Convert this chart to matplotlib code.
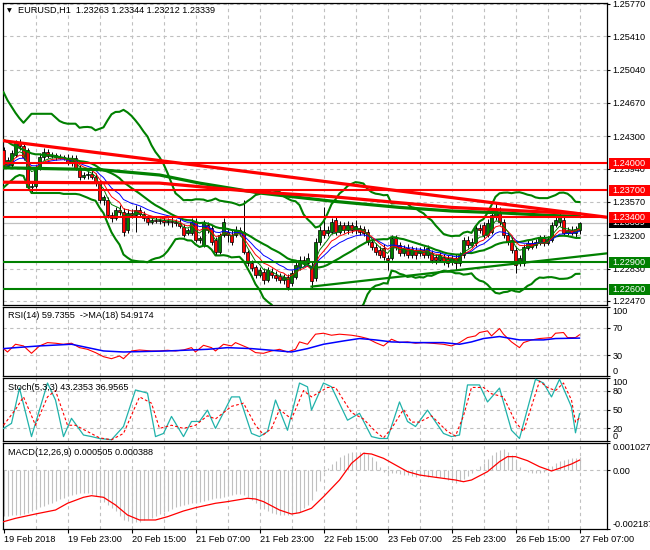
import numpy as np
import pandas as pd
import matplotlib
matplotlib.use("Agg")
import matplotlib.pyplot as plt
import matplotlib.transforms as mtrans
from matplotlib.patches import Rectangle

plt.rcParams['font.family'] = ['Liberation Sans', 'DejaVu Sans']
plt.rcParams['axes.unicode_minus'] = False
FS = 6.6

# EURUSD H1 candles, bar 0 = 19 Feb 07:00 ... bar 144 = 27 Feb 07:00
opens = [
    1.2415, 1.2397, 1.2398, 1.2409, 1.2423, 1.2419, 1.2415, 1.2374, 1.2375, 1.2396,
    1.2407, 1.2413, 1.2408, 1.2409, 1.2407, 1.2407, 1.2406, 1.2400, 1.2406, 1.2395,
    1.2385, 1.2387, 1.2388, 1.2385, 1.2378, 1.2359, 1.2359, 1.2342, 1.2339, 1.2348,
    1.2346, 1.2326, 1.2345, 1.2342, 1.2348, 1.2344, 1.2339, 1.2335, 1.2337, 1.2336,
    1.2337, 1.2335, 1.2336, 1.2335, 1.2334, 1.2329, 1.2323, 1.2323, 1.2335, 1.2315,
    1.2309, 1.2331, 1.2328, 1.2315, 1.2301, 1.2320, 1.2324, 1.2320, 1.2320, 1.2326,
    1.2324, 1.2301, 1.2289, 1.2285, 1.2276, 1.2279, 1.2270, 1.2279, 1.2276, 1.2275,
    1.2270, 1.2274, 1.2267, 1.2274, 1.2285, 1.2293, 1.2289, 1.2286, 1.2272, 1.2313,
    1.2326, 1.2323, 1.2324, 1.2337, 1.2324, 1.2331, 1.2326, 1.2331, 1.2326, 1.2328,
    1.2327, 1.2324, 1.2313, 1.2307, 1.2304, 1.2306, 1.2295, 1.2295, 1.2317, 1.2309,
    1.2300, 1.2306, 1.2298, 1.2304, 1.2300, 1.2304, 1.2298, 1.2300, 1.2296, 1.2293,
    1.2296, 1.2295, 1.2290, 1.2295, 1.2289, 1.2298, 1.2315, 1.2309, 1.2311, 1.2328,
    1.2331, 1.2320, 1.2324, 1.2340, 1.2346, 1.2335, 1.2320, 1.2315, 1.2304, 1.2289,
    1.2289, 1.2306, 1.2311, 1.2309, 1.2311, 1.2317, 1.2311, 1.2315, 1.2331, 1.2335,
    1.2337, 1.2323, 1.2326, 1.2323, 1.23263]
highs = [
    1.2418, 1.2407, 1.2415, 1.2426, 1.2427, 1.2424, 1.2417, 1.2378, 1.2398, 1.2411,
    1.2417, 1.2416, 1.2413, 1.2411, 1.2410, 1.2409, 1.2410, 1.2409, 1.2409, 1.2398,
    1.2390, 1.2391, 1.2393, 1.2389, 1.2381, 1.2365, 1.2363, 1.2346, 1.2351, 1.2354,
    1.2350, 1.2349, 1.2349, 1.2354, 1.2351, 1.2347, 1.2342, 1.2339, 1.2340, 1.2339,
    1.2340, 1.2339, 1.2341, 1.2338, 1.2339, 1.2333, 1.2328, 1.2339, 1.2339, 1.2319,
    1.2337, 1.2335, 1.2331, 1.2318, 1.2323, 1.2339, 1.2328, 1.2326, 1.2330, 1.2329,
    1.2359, 1.2304, 1.2293, 1.2287, 1.2285, 1.2284, 1.2285, 1.2284, 1.2280, 1.2278,
    1.2277, 1.2277, 1.2281, 1.2290, 1.2297, 1.2297, 1.2300, 1.2290, 1.2317, 1.2330,
    1.2351, 1.2330, 1.2339, 1.2340, 1.2336, 1.2335, 1.2336, 1.2335, 1.2337, 1.2331,
    1.2330, 1.2327, 1.2316, 1.2311, 1.2308, 1.2310, 1.2298, 1.2320, 1.2320, 1.2313,
    1.2309, 1.2310, 1.2308, 1.2307, 1.2307, 1.2308, 1.2309, 1.2304, 1.2299, 1.2301,
    1.2299, 1.2298, 1.2298, 1.2299, 1.2301, 1.2318, 1.2319, 1.2317, 1.2331, 1.2333,
    1.2335, 1.2338, 1.2348, 1.2357, 1.2351, 1.2338, 1.2324, 1.2318, 1.2308, 1.2298,
    1.2310, 1.2315, 1.2315, 1.2316, 1.2320, 1.2320, 1.2319, 1.2335, 1.2342, 1.2348,
    1.2340, 1.2329, 1.2330, 1.2330, 1.23344]
lows = [
    1.2395, 1.2395, 1.2396, 1.2407, 1.2415, 1.2404, 1.2370, 1.2368, 1.2373, 1.2393,
    1.2404, 1.2406, 1.2406, 1.2404, 1.2405, 1.2404, 1.2398, 1.2397, 1.2393, 1.2381,
    1.2382, 1.2383, 1.2382, 1.2375, 1.2356, 1.2354, 1.2339, 1.2335, 1.2337, 1.2342,
    1.2319, 1.2323, 1.2339, 1.2324, 1.2340, 1.2336, 1.2331, 1.2333, 1.2334, 1.2333,
    1.2330, 1.2331, 1.2329, 1.2330, 1.2328, 1.2318, 1.2320, 1.2320, 1.2313, 1.2311,
    1.2307, 1.2323, 1.2309, 1.2298, 1.2299, 1.2318, 1.2313, 1.2309, 1.2318, 1.2319,
    1.2299, 1.2286, 1.2280, 1.2272, 1.2274, 1.2266, 1.2268, 1.2272, 1.2269, 1.2267,
    1.2266, 1.2259, 1.2264, 1.2271, 1.2281, 1.2286, 1.2287, 1.2261, 1.2269, 1.2309,
    1.2317, 1.2319, 1.2321, 1.2320, 1.2321, 1.2323, 1.2321, 1.2323, 1.2321, 1.2320,
    1.2319, 1.2309, 1.2304, 1.2298, 1.2295, 1.2293, 1.2281, 1.2293, 1.2304, 1.2297,
    1.2297, 1.2295, 1.2295, 1.2294, 1.2297, 1.2295, 1.2295, 1.2289, 1.2288, 1.2290,
    1.2287, 1.2285, 1.2287, 1.2281, 1.2286, 1.2295, 1.2306, 1.2307, 1.2308, 1.2323,
    1.2317, 1.2318, 1.2321, 1.2337, 1.2331, 1.2317, 1.2309, 1.2300, 1.2278, 1.2286,
    1.2286, 1.2304, 1.2305, 1.2306, 1.2309, 1.2308, 1.2309, 1.2313, 1.2329, 1.2330,
    1.2320, 1.2320, 1.2320, 1.2317, 1.23212]
closes = [
    1.2397, 1.2404, 1.2411, 1.2423, 1.2419, 1.2407, 1.2374, 1.2375, 1.2396, 1.2407,
    1.2413, 1.2408, 1.2409, 1.2407, 1.2406, 1.2406, 1.2400, 1.2406, 1.2395, 1.2385,
    1.2387, 1.2388, 1.2385, 1.2378, 1.2359, 1.2362, 1.2342, 1.2339, 1.2348, 1.2346,
    1.2324, 1.2345, 1.2342, 1.2348, 1.2344, 1.2339, 1.2335, 1.2337, 1.2336, 1.2337,
    1.2335, 1.2336, 1.2335, 1.2334, 1.2330, 1.2320, 1.2326, 1.2335, 1.2315, 1.2317,
    1.2334, 1.2326, 1.2313, 1.2301, 1.2320, 1.2335, 1.2320, 1.2313, 1.2326, 1.2323,
    1.2301, 1.2289, 1.2284, 1.2276, 1.2281, 1.2270, 1.2281, 1.2276, 1.2272, 1.2270,
    1.2274, 1.2263, 1.2278, 1.2287, 1.2293, 1.2289, 1.2295, 1.2269, 1.2313, 1.2326,
    1.2320, 1.2326, 1.2335, 1.2324, 1.2331, 1.2326, 1.2331, 1.2326, 1.2330, 1.2324,
    1.2323, 1.2313, 1.2307, 1.2301, 1.2298, 1.2296, 1.2293, 1.2317, 1.2307, 1.2300,
    1.2306, 1.2298, 1.2305, 1.2298, 1.2304, 1.2298, 1.2306, 1.2293, 1.2293, 1.2298,
    1.2290, 1.2289, 1.2295, 1.2289, 1.2298, 1.2315, 1.2309, 1.2313, 1.2328, 1.2326,
    1.2320, 1.2334, 1.2342, 1.2348, 1.2335, 1.2320, 1.2313, 1.2304, 1.2287, 1.2295,
    1.2307, 1.2311, 1.2307, 1.2313, 1.2317, 1.2311, 1.2316, 1.2331, 1.2337, 1.2340,
    1.2323, 1.2326, 1.2323, 1.2327, 1.23339]

# Bollinger band values on the first bars (history before the window)
early_upper = [1.2479, 1.2470, 1.2463, 1.2456, 1.2450, 1.2445, 1.2450, 1.2455, 1.2455, 1.2455,
               1.2455, 1.2455, 1.2455, 1.2451, 1.2447, 1.2445, 1.2444, 1.2444, 1.2444]
early_mid = [1.2426, 1.2424, 1.2421, 1.2419, 1.2417, 1.2415, 1.2413, 1.2411, 1.2410, 1.2410,
             1.2409, 1.2409, 1.2409, 1.2408, 1.2407, 1.2406, 1.2405, 1.2405, 1.2404]
early_lower = [1.2373, 1.2377, 1.2381, 1.2385, 1.2387, 1.2386, 1.2375, 1.2367, 1.2367, 1.2367,
               1.2367, 1.2367, 1.2367, 1.2367, 1.2367, 1.2366, 1.2366, 1.2366, 1.2366]

# slow moving averages (thick)
slow_green_bars = [0, 24, 39, 49, 64, 82, 99, 112, 124, 137, 144]
slow_green = [1.2395, 1.2393, 1.2387, 1.2378, 1.2367, 1.2358, 1.2351, 1.2347, 1.2345, 1.2342, 1.2341]
slow_red_bars = [0, 39, 64, 82, 112, 144]
slow_red = [1.2379, 1.2378, 1.2368, 1.2363, 1.2351, 1.2344]

# drawn objects
red_levels = [1.2400, 1.2370, 1.2340]
green_levels = [1.2290, 1.2260]
red_trend_bars = [0, 151]
red_trend = [1.2425, 1.2340]
green_trend_bars = [77, 151]
green_trend = [1.2263, 1.2300]
last_price = 1.23339

# RSI(14) and its MA(18)
rsi_bars = [0, 1, 3, 5, 7, 9, 11, 13, 15, 17, 19, 21, 23, 25, 27, 29, 30, 32, 34, 37,
            39, 41, 43, 45, 47, 48, 50, 52, 53, 55, 57, 58, 61, 63, 65, 67, 69, 71, 73, 74,
            76, 78, 80, 82, 84, 87, 89, 91, 93, 95, 97, 99, 101, 103, 105, 107, 110, 112, 114, 116,
            118, 119, 121, 122, 124, 125, 127, 129, 130, 132, 134, 137, 138, 140, 141, 143, 144]
rsi_vals = [39.7, 34.8, 46.0, 43.6, 32.9, 43.6, 48.4, 47.5, 46.0, 47.5, 41.1, 38.7, 33.9, 28.0, 25.1, 29.0, 25.1, 36.3, 37.7, 36.3,
            36.3, 37.3, 36.3, 37.7, 41.1, 34.8, 44.5, 41.1, 36.3, 46.0, 43.6, 48.4, 41.1, 33.9, 32.9, 36.3, 38.7, 34.8, 38.7, 49.4,
            46.0, 60.6, 62.0, 59.1, 60.6, 59.1, 57.2, 54.3, 48.4, 43.6, 53.3, 48.4, 49.4, 47.5, 48.4, 47.5, 46.0, 43.6, 48.4, 55.7,
            58.1, 63.0, 65.4, 58.1, 68.8, 60.6, 49.4, 41.1, 48.4, 52.3, 54.3, 55.7, 62.0, 63.0, 55.7, 55.7, 59.7355]
rsi_ma_bars = [0, 3, 9, 17, 19, 25, 30, 41, 51, 56, 62, 67, 72, 76, 80, 85, 89, 93, 97, 103,
               110, 114, 117, 120, 124, 129, 135, 138, 144]
rsi_ma_vals = [39.7, 41.1, 43.6, 46.0, 43.6, 36.3, 34.8, 36.3, 38.7, 41.1, 39.7, 37.3, 34.8, 39.7, 46.0, 50.8, 54.3, 52.3, 49.4, 48.4,
               48.4, 46.0, 49.4, 54.3, 57.2, 52.3, 52.3, 54.3, 54.9174]

# Stochastic(5,3,3)
st_bars = [0, 2, 4, 7, 11, 13, 15, 17, 20, 22, 24, 27, 30, 33, 36, 38, 40, 42, 45, 47,
           49, 51, 53, 57, 59, 62, 64, 66, 68, 71, 74, 76, 77, 80, 82, 86, 89, 92, 94, 96,
           99, 101, 103, 106, 110, 112, 114, 116, 119, 121, 124, 127, 129, 133, 135, 137, 139, 142, 143, 144]
st_main = [20, 28, 84, 7, 92, 65, 7, 36, 9.5, 7, 4, 2, 23, 81, 76, 7, 12, 39, 7, 31,
           31, 49, 20, 70, 70, 12, 7, 15, 65, 17, 92, 86, 49, 92, 86, 33, 44, 7, 4, 4,
           62, 31, 23, 49, 12, 7, 9.5, 89, 89, 62, 84, 17, 4, 98, 92, 70, 98, 54, 13, 43.2353]
sd_bars = [0, 3, 5, 8, 11, 13, 16, 18, 21, 24, 27, 30, 34, 37, 39, 42, 45, 48, 51, 53,
           57, 60, 63, 65, 67, 69, 72, 75, 77, 81, 83, 87, 90, 93, 95, 97, 100, 102, 104, 107,
           111, 113, 115, 117, 120, 122, 125, 128, 130, 132, 134, 136, 138, 140, 142, 143, 144]
st_signal = [25, 50, 70, 25, 70, 80, 25, 25, 15, 5, 2, 12, 70, 60, 20, 25, 20, 25, 40, 35,
             55, 60, 25, 10, 20, 50, 35, 80, 70, 85, 85, 45, 35, 15, 5, 20, 50, 30, 30, 40,
             15, 8, 40, 85, 85, 75, 70, 30, 15, 55, 95, 85, 80, 92, 65, 30, 36.9565]

# MACD(12,26,9): main as histogram, signal as line
macd_main = [
    -0.00170, -0.00169, -0.00168, -0.00167, -0.00165, -0.00163, -0.00158, -0.00150, -0.00143, -0.00137,
    -0.00132, -0.00126, -0.00120, -0.00113, -0.00107, -0.00101, -0.00097, -0.00093, -0.00088, -0.00085,
    -0.00084, -0.00083, -0.00088, -0.00097, -0.00104, -0.00116, -0.00129, -0.00141, -0.00153, -0.00170,
    -0.00184, -0.00190, -0.00195, -0.00194, -0.00191, -0.00186, -0.00181, -0.00176, -0.00171, -0.00164,
    -0.00157, -0.00150, -0.00144, -0.00138, -0.00133, -0.00129, -0.00125, -0.00123, -0.00120, -0.00116,
    -0.00113, -0.00110, -0.00107, -0.00104, -0.00101, -0.00098, -0.00095, -0.00091, -0.00088, -0.00089,
    -0.00092, -0.00100, -0.00109, -0.00121, -0.00133, -0.00143, -0.00152, -0.00158, -0.00162, -0.00165,
    -0.00166, -0.00167, -0.00166, -0.00160, -0.00154, -0.00142, -0.00130, -0.00110, -0.00075, -0.00040,
    -0.00006, 0.00010, 0.00024, 0.00035, 0.00049, 0.00058, 0.00065, 0.00068, 0.00070, 0.00070,
    0.00068, 0.00063, 0.00052, 0.00035, 0.00012, -0.00004, -0.00008, -0.00009, -0.00011, -0.00013,
    -0.00016, -0.00018, -0.00021, -0.00023, -0.00022, -0.00022, -0.00023, -0.00022, -0.00023, -0.00023,
    -0.00028, -0.00034, -0.00040, -0.00046, -0.00040, -0.00030, -0.00020, -0.00008, 0.00004, 0.00015,
    0.00027, 0.00042, 0.00058, 0.00068, 0.00075, 0.00079, 0.00070, 0.00057, 0.00036, 0.00014,
    0.00002, -0.00004, -0.00008, -0.00011, -0.00009, -0.00004, 0.00005, 0.00018, 0.00028, 0.00037,
    0.00040, 0.00043, 0.00045, 0.00047, 0.000505]
sig_bars = [0, 3, 8, 13, 16, 20, 22, 25, 28, 31, 34, 38, 41, 45, 48, 53, 56, 61, 63, 65,
            69, 72, 74, 77, 80, 84, 87, 90, 92, 95, 98, 101, 104, 108, 113, 115, 117, 121, 124, 126,
            128, 131, 134, 137, 139, 142, 144]
macd_signal = [-0.001914, -0.001788, -0.001626, -0.001477, -0.001226, -0.001002, -0.000942, -0.001002, -0.001290, -0.001664,
               -0.001850, -0.001850, -0.001727, -0.001514, -0.001390, -0.001226, -0.001164, -0.001039, -0.001066, -0.001164,
               -0.001477, -0.001626, -0.001578, -0.001413, -0.000980, -0.000356, 0.000268, 0.000642, 0.000616, 0.000455,
               0.000205, -0.000044, -0.000169, -0.000255, -0.000356, -0.000419, -0.000356, -0.000044, 0.000330, 0.000517,
               0.000517, 0.000366, 0.000142, -0.000019, 0.000081, 0.000242, 0.000388]

price_ticks = [1.25770, 1.25410, 1.25040, 1.24670, 1.24300, 1.23940, 1.23570, 1.23200, 1.22830, 1.22470]
tick_bars = [0, 16, 32, 48, 64, 80, 96, 112, 128, 144]
tick_labels = ["19 Feb 2018", "19 Feb 23:00", "20 Feb 15:00", "21 Feb 07:00", "21 Feb 23:00",
               "22 Feb 15:00", "23 Feb 07:00", "25 Feb 23:00", "26 Feb 15:00", "27 Feb 07:00"]

# ---- indicators from the candles ----
bars = np.arange(len(closes))
cl = pd.Series(closes)
bb_mid = cl.rolling(20).mean()
bb_sd = cl.rolling(20).std(ddof=0)
bb_up = (bb_mid + 3 * bb_sd).values
bb_lo = (bb_mid - 3 * bb_sd).values
bb_mid = bb_mid.values
bb_up[:19] = early_upper
bb_mid[:19] = early_mid
bb_lo[:19] = early_lower
ma_fast = cl.ewm(span=5, adjust=False).mean()
ma_mid = cl.ewm(span=8, adjust=False).mean()
ma_slow = cl.ewm(span=13, adjust=False).mean()

# ---- figure ----
W, H = 650, 550
fig = plt.figure(figsize=(6.5, 5.5), dpi=100)


def rect(top, bottom):
    return [3 / W, 1 - bottom / H, 604 / W, (bottom - top) / H]


ax = fig.add_axes(rect(3, 305))
ax_rsi = fig.add_axes(rect(307, 376))
ax_st = fig.add_axes(rect(378, 441))
ax_macd = fig.add_axes(rect(443, 529))

GRID = dict(color='#c0c0c0', lw=0.8, ls=(0, (3, 3)), zorder=0)
for a in (ax, ax_rsi, ax_st, ax_macd):
    a.set_xlim(-0.125, 150.875)
    a.yaxis.tick_right()
    a.tick_params(axis='y', direction='out', length=2.5, width=0.8, pad=1.5, labelsize=FS)
    a.set_xticks([])
    for s in a.spines.values():
        s.set_linewidth(0.9)
        s.set_color('black')
    for b in range(8, 145, 8):
        a.axvline(b, **GRID)

# main price panel
ax.set_ylim(1.224255, 1.257811)
ax.set_yticks(price_ticks)
ax.set_yticklabels([f"{p:.5f}" for p in price_ticks])
for p in price_ticks:
    ax.axhline(p, **GRID)
ax.axhline(last_price, color='#c0c0c0', lw=0.9, zorder=1)

for i in bars:
    o, h, l, c = opens[i], highs[i], lows[i], closes[i]
    col = '#008000' if c >= o else '#ff0000'
    ax.vlines(i, l, h, color='black', lw=0.7, zorder=3)
    ax.bar(i, c - o, bottom=o, width=0.75, color=col, edgecolor='black', lw=0.5, zorder=4)

ax.plot(bars, bb_up, color='#008000', lw=1.5, zorder=5)
ax.plot(bars, bb_mid, color='#008000', lw=1.5, zorder=5)
ax.plot(bars, bb_lo, color='#008000', lw=1.5, zorder=5)
ax.plot(bars, ma_slow, color='#0000ff', lw=0.7, zorder=6)
ax.plot(bars, ma_mid, color='#ff0000', lw=0.7, zorder=6)
ax.plot(bars, ma_fast, color='#008000', lw=0.7, zorder=6)

ax.plot(slow_green_bars, slow_green, color='#008000', lw=2.3, zorder=7)
ax.plot(slow_red_bars, slow_red, color='#ff0000', lw=2.3, zorder=7)
ax.plot(red_trend_bars, red_trend, color='#ff0000', lw=2.3, zorder=7)
ax.plot(green_trend_bars, green_trend, color='#008000', lw=1.6, zorder=7)
for p in red_levels:
    ax.axhline(p, color='#ff0000', lw=1.5, zorder=7)
for p in green_levels:
    ax.axhline(p, color='#008000', lw=1.5, zorder=7)

trans = mtrans.blended_transform_factory(ax.transAxes, ax.transData)


def price_box(p, fc, z):
    ax.add_patch(Rectangle((1.0033, p - 0.00061), 0.08, 0.00122, transform=trans,
                           fc=fc, ec='none', clip_on=False, zorder=z))
    ax.text(1.0085, p, f"{p:.5f}", transform=trans, fontsize=FS, color='white',
            va='center', ha='left', zorder=z + 0.5, clip_on=False)


price_box(last_price, 'black', 20)
for p in red_levels:
    price_box(p, '#ff0000', 22)
for p in green_levels:
    price_box(p, '#008000', 22)

# RSI panel
ax_rsi.set_ylim(0, 100)
ax_rsi.set_yticks([100, 70, 30, 0])
for p in (70, 30):
    ax_rsi.axhline(p, **GRID)
ax_rsi.plot(rsi_bars, rsi_vals, color='#ff0000', lw=0.8, zorder=3)
ax_rsi.plot(rsi_ma_bars, rsi_ma_vals, color='#0000ff', lw=1.1, zorder=4)

# Stochastic panel
ax_st.set_ylim(0, 100)
ax_st.set_yticks([100, 80, 50, 20, 0])
for p in (80, 50, 20):
    ax_st.axhline(p, **GRID)
ax_st.plot(st_bars, st_main, color='#20b2aa', lw=0.9, zorder=3)
ax_st.plot(sd_bars, st_signal, color='#ff0000', lw=0.8, ls=(0, (2.5, 2)), zorder=4)

# MACD panel
ax_macd.set_ylim(-0.002187, 0.001027)
ax_macd.set_yticks([0.001027, 0.0, -0.002187])
ax_macd.set_yticklabels(["0.001027", "0.00", "-0.002187"])
ax_macd.axhline(0, **GRID)
ax_macd.vlines(bars, 0, macd_main, color='#c0c0c0', lw=0.8, zorder=2)
ax_macd.plot(sig_bars, macd_signal, color='#ff0000', lw=0.9, zorder=3)
ax_macd.set_xticks(tick_bars)
ax_macd.set_xticklabels(tick_labels, ha='left', fontsize=FS)
ax_macd.tick_params(axis='x', direction='out', length=3, width=0.8, pad=1.5)

for a in (ax_rsi, ax_st, ax_macd):
    ticks = a.yaxis.get_major_ticks()
    ticks[0].label2.set_va('top')
    ticks[-1].label2.set_va('bottom')

# captions
fig.text(7 / W, 1 - 10.5 / H, "\u25bc", fontsize=4.5, va='center', ha='left', family='DejaVu Sans')
fig.text(18 / W, 1 - 10.5 / H, "EURUSD,H1  1.23263 1.23344 1.23212 1.23339", fontsize=FS, va='center', ha='left')
fig.text(8 / W, 1 - 316 / H, "RSI(14) 59.7355  ->MA(18) 54.9174", fontsize=FS, va='center', ha='left')
fig.text(8 / W, 1 - 387.5 / H, "Stoch(5,3,3) 43.2353 36.9565", fontsize=FS, va='center', ha='left')
fig.text(8 / W, 1 - 452.5 / H, "MACD(12,26,9) 0.000505 0.000388", fontsize=FS, va='center', ha='left')

fig.savefig("out.png", dpi=100, facecolor='white')
